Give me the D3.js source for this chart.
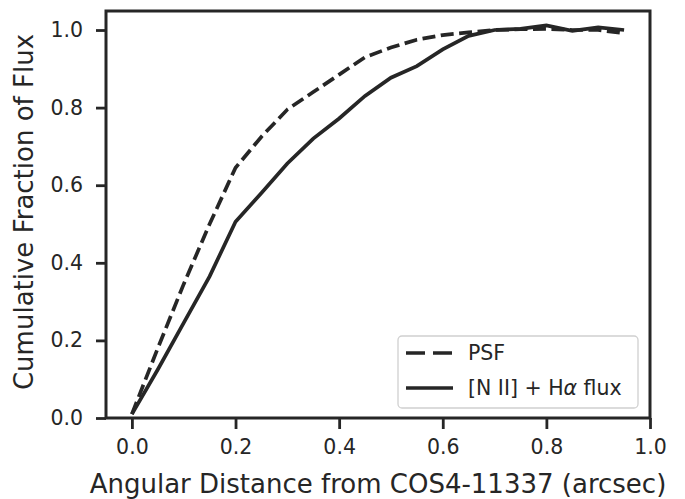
<!DOCTYPE html>
<html>
<head>
<meta charset="utf-8">
<script src="https://cdn.jsdelivr.net/npm/d3@7"></script>
<style>
  body { margin: 0; background: #fff; }
  svg text { font-family: "DejaVu Sans", sans-serif; fill: #262626; }
</style>
</head>
<body>
<svg id="chart" width="685" height="499"></svg>
<script>
// distance samples (arcsec)
var radius = [0.0, 0.05, 0.1, 0.15, 0.2, 0.25, 0.3, 0.35, 0.4, 0.45, 0.5,
              0.55, 0.6, 0.65, 0.7, 0.75, 0.8, 0.85, 0.9, 0.95];
var psf = [0.01, 0.18, 0.345, 0.5, 0.645, 0.725, 0.795, 0.84, 0.885, 0.93, 0.955,
           0.975, 0.987, 0.994, 1.0, 1.002, 1.003, 1.0, 1.0, 0.992];
var lineFlux = [0.01, 0.125, 0.245, 0.365, 0.506, 0.58, 0.656, 0.72, 0.772, 0.83, 0.877,
                0.907, 0.95, 0.985, 1.0, 1.003, 1.012, 0.998, 1.007, 1.0];
var xTicks = [0.0, 0.2, 0.4, 0.6, 0.8, 1.0];
var yTicks = [0.0, 0.2, 0.4, 0.6, 0.8, 1.0];

var svg = d3.select("#chart"),
    ink = "#262626",
    m = {left: 106, right: 35, top: 11, bottom: 81},
    w = 685 - m.left - m.right,
    h = 499 - m.top - m.bottom;

var x = d3.scaleLinear().domain([-0.05, 1.0]).range([0, w]);
var y = d3.scaleLinear().domain([0, 1.049]).range([h, 0]);

var g = svg.append("g").attr("transform", "translate(" + m.left + "," + m.top + ")");

var line = d3.line()
    .x(function(d, i) { return x(radius[i]); })
    .y(function(d) { return y(d); });

g.append("path").datum(psf)
    .attr("d", line)
    .attr("fill", "none")
    .attr("stroke", ink)
    .attr("stroke-width", 3.7)
    .attr("stroke-dasharray", "13,5.5");

g.append("path").datum(lineFlux)
    .attr("d", line)
    .attr("fill", "none")
    .attr("stroke", ink)
    .attr("stroke-width", 3.7);

// axes
var xAxis = g.append("g").attr("transform", "translate(0," + h + ")")
    .call(d3.axisBottom(x).tickValues(xTicks).tickFormat(d3.format(".1f")).tickSize(11).tickPadding(10));
var yAxis = g.append("g")
    .call(d3.axisLeft(y).tickValues(yTicks).tickFormat(d3.format(".1f")).tickSize(10).tickPadding(13));

[xAxis, yAxis].forEach(function(a) {
  a.select(".domain").remove();
  a.selectAll(".tick line").attr("stroke", ink).attr("stroke-width", 2.8);
  a.selectAll(".tick text").attr("font-size", 20.5).attr("fill", ink)
    .style("font-family", "DejaVu Sans");
});

// frame
g.append("rect").attr("x", 0).attr("y", 0).attr("width", w).attr("height", h)
    .attr("fill", "none").attr("stroke", ink).attr("stroke-width", 3);

// axis labels
svg.append("text")
    .attr("x", m.left + w / 2).attr("y", 493)
    .attr("text-anchor", "middle").attr("font-size", 26)
    .text("Angular Distance from COS4-11337 (arcsec)");

svg.append("text")
    .attr("transform", "translate(33,212) rotate(-90)")
    .attr("text-anchor", "middle").attr("font-size", 26)
    .text("Cumulative Fraction of Flux");

// legend
var leg = svg.append("g").attr("transform", "translate(398,336)");
leg.append("rect").attr("width", 240).attr("height", 72).attr("rx", 4)
    .attr("fill", "#fff").attr("fill-opacity", 0.8)
    .attr("stroke", "#d0d0d0").attr("stroke-width", 1.3);

var entries = [
  {label: "PSF", dash: "19,8", y: 17},
  {label: "[N II] + H\u03b1 flux", dash: null, y: 52}
];
entries.forEach(function(e) {
  leg.append("line").attr("x1", 8).attr("x2", 55).attr("y1", e.y).attr("y2", e.y)
      .attr("stroke", ink).attr("stroke-width", 3.7)
      .attr("stroke-dasharray", e.dash);
  var t = leg.append("text").attr("x", 70).attr("y", e.y + 7).attr("font-size", 20.5);
  if (e.dash) {
    t.text(e.label);
  } else {
    t.append("tspan").text("[N II] + H");
    t.append("tspan").attr("font-style", "italic").text("\u03b1");
    t.append("tspan").text(" flux");
  }
});
</script>
</body>
</html>
